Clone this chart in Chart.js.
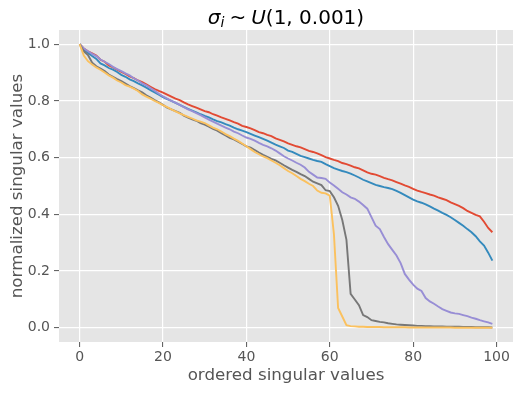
<!DOCTYPE html>
<html>
<head>
<meta charset="utf-8">
<script src="https://cdn.jsdelivr.net/npm/chart.js"></script>
<style>
  html, body { margin: 0; padding: 0; background: #fff; }
  canvas { display: block; }
</style>
</head>
<body>
<canvas id="svChart" width="531" height="394"></canvas>
<script>
// Tick labels
const X_TICKS = [0, 20, 40, 60, 80, 100];
const Y_TICKS = [0, 0.2, 0.4, 0.6, 0.8, 1.0];

// Normalized singular values (index 0..99)
const RED = [
  1.000, 0.985, 0.975, 0.968, 0.960, 0.945, 0.938, 0.925, 0.918, 0.910,
  0.902, 0.895, 0.886, 0.880, 0.872, 0.866, 0.858, 0.850, 0.842, 0.835,
  0.829, 0.822, 0.815, 0.808, 0.803, 0.795, 0.788, 0.782, 0.776, 0.770,
  0.764, 0.760, 0.753, 0.748, 0.742, 0.737, 0.731, 0.725, 0.720, 0.712,
  0.708, 0.703, 0.697, 0.690, 0.686, 0.680, 0.676, 0.668, 0.663, 0.657,
  0.650, 0.645, 0.640, 0.636, 0.630, 0.624, 0.620, 0.615, 0.609, 0.602,
  0.597, 0.592, 0.588, 0.581, 0.577, 0.572, 0.566, 0.562, 0.555, 0.548,
  0.543, 0.540, 0.535, 0.529, 0.524, 0.520, 0.514, 0.508, 0.502, 0.497,
  0.490, 0.484, 0.479, 0.475, 0.470, 0.466, 0.460, 0.455, 0.450, 0.442,
  0.436, 0.430, 0.422, 0.412, 0.405, 0.398, 0.393, 0.374, 0.352, 0.337
];
const BLUE = [
  1.000, 0.980, 0.970, 0.958, 0.948, 0.932, 0.925, 0.916, 0.910, 0.902,
  0.892, 0.885, 0.876, 0.870, 0.862, 0.855, 0.847, 0.838, 0.830, 0.822,
  0.813, 0.806, 0.800, 0.793, 0.786, 0.779, 0.772, 0.766, 0.760, 0.753,
  0.747, 0.742, 0.735, 0.729, 0.724, 0.718, 0.713, 0.706, 0.700, 0.695,
  0.690, 0.684, 0.678, 0.672, 0.666, 0.660, 0.653, 0.646, 0.640, 0.634,
  0.625, 0.620, 0.613, 0.606, 0.602, 0.597, 0.592, 0.588, 0.585, 0.577,
  0.570, 0.563, 0.558, 0.553, 0.549, 0.544, 0.537, 0.530, 0.522, 0.516,
  0.510, 0.504, 0.500, 0.496, 0.493, 0.489, 0.483, 0.476, 0.468, 0.460,
  0.452, 0.446, 0.441, 0.435, 0.428, 0.420, 0.413, 0.405, 0.398, 0.390,
  0.380, 0.370, 0.360, 0.348, 0.337, 0.323, 0.305, 0.290, 0.265, 0.237
];
const PURPLE = [
  1.000, 0.985, 0.975, 0.966, 0.958, 0.946, 0.938, 0.930, 0.920, 0.912,
  0.905, 0.897, 0.890, 0.880, 0.872, 0.862, 0.855, 0.845, 0.836, 0.825,
  0.816, 0.808, 0.800, 0.794, 0.786, 0.778, 0.770, 0.764, 0.757, 0.750,
  0.742, 0.734, 0.727, 0.720, 0.713, 0.706, 0.700, 0.692, 0.686, 0.678,
  0.671, 0.666, 0.660, 0.652, 0.645, 0.640, 0.633, 0.625, 0.615, 0.605,
  0.597, 0.590, 0.582, 0.575, 0.565, 0.550, 0.540, 0.530, 0.528, 0.525,
  0.512, 0.502, 0.490, 0.478, 0.470, 0.460, 0.455, 0.445, 0.433, 0.420,
  0.390, 0.360, 0.348, 0.320, 0.295, 0.275, 0.255, 0.228, 0.190, 0.170,
  0.152, 0.138, 0.130, 0.105, 0.093, 0.085, 0.075, 0.066, 0.060, 0.054,
  0.051, 0.049, 0.045, 0.041, 0.036, 0.032, 0.027, 0.023, 0.019, 0.014
];
const GRAY = [
  1.000, 0.975, 0.962, 0.935, 0.922, 0.914, 0.905, 0.893, 0.885, 0.877,
  0.870, 0.861, 0.852, 0.845, 0.837, 0.830, 0.820, 0.812, 0.803, 0.795,
  0.786, 0.776, 0.770, 0.764, 0.758, 0.748, 0.741, 0.735, 0.730, 0.722,
  0.716, 0.709, 0.701, 0.695, 0.686, 0.678, 0.670, 0.664, 0.656, 0.648,
  0.640, 0.635, 0.627, 0.618, 0.610, 0.603, 0.596, 0.590, 0.582, 0.573,
  0.565, 0.557, 0.550, 0.542, 0.535, 0.525, 0.515, 0.509, 0.503, 0.485,
  0.482, 0.460, 0.430, 0.380, 0.310, 0.120, 0.100, 0.080, 0.045, 0.038,
  0.027, 0.024, 0.021, 0.019, 0.016, 0.014, 0.012, 0.011, 0.010, 0.009,
  0.008, 0.007, 0.007, 0.006, 0.006, 0.005, 0.005, 0.005, 0.004, 0.004,
  0.004, 0.004, 0.003, 0.003, 0.003, 0.002, 0.002, 0.002, 0.002, 0.001
];
const YELLOW = [
  1.000, 0.960, 0.940, 0.928, 0.918, 0.910, 0.900, 0.890, 0.882, 0.872,
  0.865, 0.856, 0.850, 0.843, 0.835, 0.823, 0.815, 0.808, 0.800, 0.793,
  0.785, 0.778, 0.770, 0.763, 0.756, 0.750, 0.744, 0.738, 0.731, 0.727,
  0.722, 0.714, 0.706, 0.700, 0.692, 0.683, 0.676, 0.667, 0.659, 0.650,
  0.640, 0.630, 0.620, 0.612, 0.604, 0.598, 0.590, 0.582, 0.573, 0.563,
  0.553, 0.545, 0.535, 0.525, 0.517, 0.508, 0.500, 0.484, 0.476, 0.474,
  0.466, 0.330, 0.070, 0.040, 0.009, 0.006, 0.005, 0.004, 0.004, 0.003,
  0.003, 0.003, 0.003, 0.002, 0.002, 0.002, 0.002, 0.002, 0.002, 0.001,
  0.001, 0.001, 0.001, 0.001, 0.001, 0.001, 0.001, 0.001, 0.001, 0.001,
  0.000, 0.000, 0.000, 0.000, 0.000, 0.000, 0.000, 0.000, 0.000, 0.000
];

const FONT = 'DejaVu Sans';

function toPoints(values) {
    return values.map(function(v, i) { return { x: i, y: v }; });
}

function makeSeries(values, color, order) {
    return {
        data: toPoints(values),
        borderColor: color,
        backgroundColor: color,
        borderWidth: 1.9,
        pointRadius: 0,
        tension: 0,
        order: order
    };
}

// Grey panel behind the plot area (ggplot look)
const panelBackground = {
    id: 'panelBackground',
    beforeDraw: function(chart) {
        const ctx = chart.ctx;
        const a = chart.chartArea;
        ctx.save();
        ctx.fillStyle = '#ffffff';
        ctx.fillRect(0, 0, chart.width, chart.height);
        ctx.fillStyle = '#e5e5e5';
        ctx.fillRect(a.left, a.top, a.right - a.left, a.bottom - a.top);
        ctx.restore();
    }
};

// Title with italic / subscript pieces, like matplotlib mathtext
const mathTitle = {
    id: 'mathTitle',
    afterDraw: function(chart) {
        const ctx = chart.ctx;
        const a = chart.chartArea;
        const parts = [
            { t: 'σ', font: 'oblique 20px "' + FONT + '"', dy: 0, gap: 0 },
            { t: 'i', font: 'oblique 14px "' + FONT + '"', dy: 3, gap: 0 },
            { t: '~', font: '20px "' + FONT + '"', dy: 0, gap: 5 },
            { t: 'U', font: 'oblique 20px "' + FONT + '"', dy: 0, gap: 0 },
            { t: '(1, 0.001)', font: '20px "' + FONT + '"', dy: 0, gap: 0 }
        ];
        ctx.save();
        let total = 0;
        parts.forEach(function(p) {
            ctx.font = p.font;
            p.w = ctx.measureText(p.t).width + p.gap * 2;
            total += p.w;
        });
        let x = (a.left + a.right) / 2 - total / 2;
        const base = 24;
        ctx.fillStyle = '#000000';
        ctx.textBaseline = 'alphabetic';
        ctx.textAlign = 'left';
        parts.forEach(function(p) {
            ctx.font = p.font;
            ctx.fillText(p.t, x + p.gap, base + p.dy);
            x += p.w;
        });
        ctx.restore();
    }
};

new Chart(document.getElementById('svChart'), {
    type: 'line',
    data: {
        datasets: [
            makeSeries(RED, '#E24A33', 4),
            makeSeries(BLUE, '#348ABD', 3),
            makeSeries(PURPLE, '#988ED5', 2),
            makeSeries(GRAY, '#777777', 1),
            makeSeries(YELLOW, '#FBC15E', 0)
        ]
    },
    options: {
        responsive: false,
        animation: false,
        layout: {
            padding: { left: 0, top: 30, right: 18, bottom: 0 }
        },
        plugins: {
            legend: { display: false },
            title: { display: false },
            tooltip: { enabled: false }
        },
        scales: {
            x: {
                type: 'linear',
                min: -4.95,
                max: 103.95,
                afterBuildTicks: function(scale) {
                    scale.ticks = X_TICKS.map(function(v) { return { value: v }; });
                },
                afterFit: function(scale) { scale.height = 52; },
                border: { display: false },
                grid: {
                    color: '#ffffff',
                    lineWidth: 1.2,
                    drawTicks: true,
                    tickLength: 5,
                    tickColor: '#555555',
                    tickWidth: 1
                },
                ticks: {
                    color: '#555555',
                    font: { family: FONT, size: 14 },
                    padding: 2,
                    maxRotation: 0,
                    callback: function(v) { return String(v); }
                },
                title: {
                    display: true,
                    text: 'ordered singular values',
                    color: '#555555',
                    font: { family: FONT, size: 16.7 },
                    padding: { top: 0, bottom: 8 }
                }
            },
            y: {
                min: -0.05,
                max: 1.05,
                afterBuildTicks: function(scale) {
                    scale.ticks = Y_TICKS.map(function(v) { return { value: v }; });
                },
                afterFit: function(scale) { scale.width = 59; },
                border: { display: false },
                grid: {
                    color: '#ffffff',
                    lineWidth: 1.2,
                    drawTicks: true,
                    tickLength: 5,
                    tickColor: '#555555',
                    tickWidth: 1
                },
                ticks: {
                    color: '#555555',
                    font: { family: FONT, size: 14 },
                    padding: 4,
                    callback: function(v) { return v.toFixed(1); }
                },
                title: {
                    display: true,
                    text: 'normalized singular values',
                    color: '#555555',
                    font: { family: FONT, size: 16.7 },
                    padding: { top: 8, bottom: 0 }
                }
            }
        }
    },
    plugins: [panelBackground, mathTitle]
});
</script>
</body>
</html>
